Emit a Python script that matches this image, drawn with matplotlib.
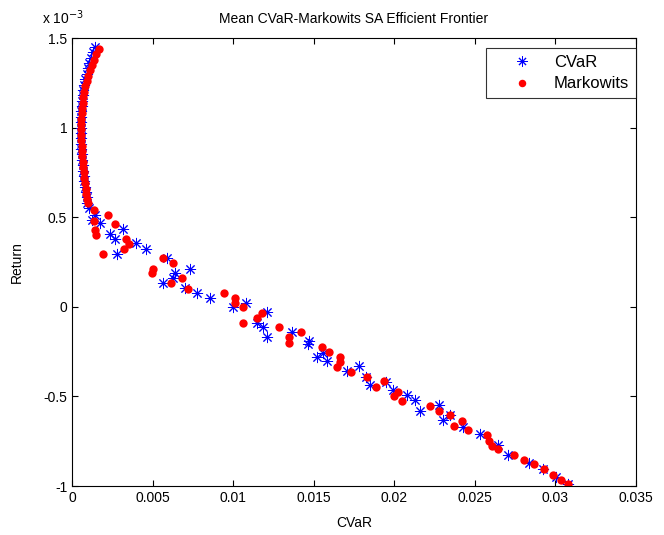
import matplotlib
matplotlib.use("Agg")
import matplotlib.pyplot as plt

plt.rcParams["font.family"] = ["Liberation Sans", "DejaVu Sans"]
plt.rcParams["font.size"] = 10

# CVaR portfolios (x = CVaR, y = return in units of 1e-3)
cvar_x = [0.00140, 0.00130, 0.00120, 0.00108, 0.00098, 0.00090, 0.00082, 0.00075,
          0.00070, 0.00066, 0.00062, 0.00059, 0.00057, 0.00055, 0.00054, 0.00053,
          0.00053, 0.00054, 0.00056, 0.00058, 0.00060, 0.00063, 0.00066, 0.00069,
          0.00072, 0.00076, 0.00080, 0.00085, 0.00090, 0.00096, 0.00104,
          0.00127, 0.00140, 0.00171, 0.00233, 0.00264, 0.00314, 0.00395, 0.00457,
          0.00277, 0.00588, 0.00637, 0.00625, 0.00563, 0.00700, 0.00731, 0.00774,
          0.00855, 0.00998, 0.01079, 0.01147, 0.01210, 0.01185, 0.01210, 0.01365,
          0.01465, 0.01471, 0.01558, 0.01520, 0.01583, 0.01707, 0.01782, 0.01825,
          0.01850, 0.01950, 0.01993, 0.02080, 0.02130, 0.02161, 0.02279, 0.02304,
          0.02348, 0.02428, 0.02534, 0.02646, 0.02708, 0.02833, 0.02920, 0.03001,
          0.03081]
cvar_y = [1.45, 1.42, 1.39, 1.36, 1.33, 1.30, 1.27, 1.24,
          1.21, 1.18, 1.15, 1.12, 1.09, 1.06, 1.03, 1.00,
          0.97, 0.94, 0.91, 0.88, 0.85, 0.82, 0.79, 0.76,
          0.73, 0.70, 0.67, 0.64, 0.61, 0.58, 0.55,
          0.484, 0.512, 0.468, 0.406, 0.378, 0.434, 0.356, 0.323,
          0.295, 0.272, 0.189, 0.161, 0.133, 0.105, 0.211, 0.077,
          0.049, -0.001, 0.021, -0.090, -0.029, -0.113, -0.169, -0.141,
          -0.208, -0.191, -0.258, -0.280, -0.302, -0.358, -0.331, -0.392,
          -0.436, -0.420, -0.464, -0.492, -0.520, -0.581, -0.548, -0.632,
          -0.604, -0.671, -0.710, -0.771, -0.827, -0.872, -0.905, -0.950,
          -0.989]

# Markowitz portfolios
mark_x = [0.00165, 0.00150, 0.00138, 0.00125, 0.00112, 0.00100, 0.00090, 0.00082,
          0.00076, 0.00071, 0.00067, 0.00063, 0.00060, 0.00058, 0.00057, 0.00056,
          0.00057, 0.00058, 0.00060, 0.00062, 0.00065, 0.00068, 0.00071, 0.00074,
          0.00077, 0.00080, 0.00084, 0.00088, 0.00093, 0.00098,
          0.00134, 0.00134, 0.00221, 0.00264, 0.00140, 0.00152, 0.00333, 0.00351,
          0.00190, 0.00320, 0.00563, 0.00625, 0.00501, 0.00494, 0.00613, 0.00681,
          0.00718, 0.00942, 0.01011, 0.01011, 0.01060, 0.01060, 0.01147, 0.01178,
          0.01284, 0.01346, 0.01346, 0.01421, 0.01552, 0.01595, 0.01664, 0.01664,
          0.01645, 0.01732, 0.01831, 0.01887, 0.01937, 0.01999, 0.02024, 0.02049,
          0.02223, 0.02279, 0.02348, 0.02372, 0.02422, 0.02460, 0.02578, 0.02590,
          0.02609, 0.02646, 0.02746, 0.02802, 0.02870, 0.02926, 0.02982, 0.03032,
          0.03081]
mark_y = [1.44, 1.41, 1.38, 1.35, 1.32, 1.29, 1.26, 1.23,
          1.20, 1.17, 1.14, 1.11, 1.08, 1.05, 1.02, 0.99,
          0.96, 0.93, 0.90, 0.87, 0.84, 0.81, 0.78, 0.75,
          0.72, 0.69, 0.66, 0.63, 0.60, 0.58,
          0.540, 0.479, 0.512, 0.462, 0.429, 0.401, 0.378, 0.350,
          0.295, 0.323, 0.272, 0.244, 0.211, 0.189, 0.133, 0.161,
          0.099, 0.077, 0.049, 0.021, -0.001, -0.090, -0.063, -0.035,
          -0.113, -0.169, -0.202, -0.141, -0.224, -0.252, -0.280, -0.308,
          -0.336, -0.364, -0.392, -0.448, -0.414, -0.498, -0.476, -0.526,
          -0.554, -0.581, -0.604, -0.665, -0.637, -0.688, -0.715, -0.749,
          -0.777, -0.794, -0.827, -0.855, -0.877, -0.905, -0.939, -0.967,
          -0.989]

xticks = [0, 0.005, 0.01, 0.015, 0.02, 0.025, 0.03, 0.035]
xtick_labels = ["0", "0.005", "0.01", "0.015", "0.02", "0.025", "0.03", "0.035"]
yticks = [-1, -0.5, 0, 0.5, 1, 1.5]
ytick_labels = ["-1", "-0.5", "0", "0.5", "1", "1.5"]

fig = plt.figure(figsize=(6.64, 5.35), dpi=100)
ax = fig.add_axes([72 / 664, 1 - 486 / 535, 564 / 664, 448 / 535])

ax.plot(cvar_x, [v * 1e-3 for v in cvar_y], linestyle="none", marker=(8, 2, 0),
        markersize=8, markeredgewidth=0.7, color="blue", label="CVaR")
ax.plot(mark_x, [v * 1e-3 for v in mark_y], linestyle="none", marker="o",
        markersize=6, markeredgewidth=0, color="red", label="Markowits")

ax.set_xlim(0, 0.035)
ax.set_ylim(-1e-3, 1.5e-3)
ax.set_xticks(xticks)
ax.set_xticklabels(xtick_labels)
ax.set_yticks([t * 1e-3 for t in yticks])
ax.set_yticklabels(ytick_labels)
ax.tick_params(direction="in", top=True, right=True, length=4, width=0.8, labelsize=10)
for s in ax.spines.values():
    s.set_linewidth(0.8)

ax.set_xlabel("CVaR", fontsize=10, labelpad=8)
ax.set_ylabel("Return", fontsize=10, labelpad=14)
ax.set_title("Mean CVaR-Markowits SA Efficient Frontier", fontsize=10, pad=11)
fig.text(42 / 664, 1 - 24 / 535, r"x 10$^{-3}$", fontsize=10)

leg = ax.legend(loc="upper right", bbox_to_anchor=(1.0, 1 - 10 / 448), borderaxespad=0,
                fancybox=False, edgecolor="black", fontsize=12, handletextpad=0.1,
                borderpad=0.4, handlelength=3.6, labelspacing=0.4, markerscale=0.9)
leg.get_frame().set_linewidth(0.8)

fig.savefig("out.png", dpi=100)
